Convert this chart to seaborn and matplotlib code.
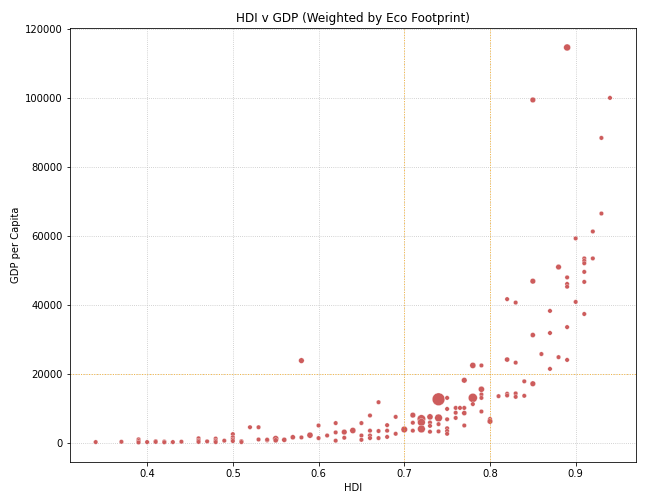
import numpy as np
import pandas as pd
import matplotlib
matplotlib.use("Agg")
import matplotlib.pyplot as plt
import seaborn as sns

# values
hdi = [
    0.34, 0.37, 0.39, 0.39, 0.39, 0.40, 0.41, 0.41, 0.42, 0.42,
    0.43, 0.44, 0.46, 0.46, 0.46, 0.47, 0.48, 0.48, 0.48, 0.49,
    0.50, 0.50, 0.50, 0.50, 0.51, 0.51, 0.52, 0.53, 0.53, 0.54,
    0.54, 0.55, 0.55, 0.56, 0.57, 0.58, 0.58, 0.59, 0.60, 0.60,
    0.61, 0.62, 0.62, 0.62, 0.63, 0.63, 0.64, 0.65, 0.65, 0.65,
    0.66, 0.66, 0.66, 0.66, 0.67, 0.67, 0.67, 0.68, 0.68, 0.68,
    0.69, 0.69, 0.70, 0.71, 0.71, 0.71, 0.72, 0.72, 0.72, 0.73,
    0.73, 0.73, 0.73, 0.74, 0.74, 0.74, 0.74, 0.75, 0.75, 0.75,
    0.75, 0.75, 0.75, 0.76, 0.76, 0.76, 0.765, 0.77, 0.77, 0.77,
    0.77, 0.78, 0.78, 0.78, 0.79, 0.79, 0.79, 0.79, 0.79, 0.80,
    0.80, 0.81, 0.82, 0.82, 0.82, 0.83, 0.83, 0.83, 0.84, 0.84,
    0.85, 0.86, 0.87, 0.88, 0.89, 0.82, 0.83, 0.85, 0.85, 0.85,
    0.87, 0.87, 0.88, 0.89, 0.89, 0.89, 0.89, 0.89, 0.90, 0.90,
    0.91, 0.91, 0.91, 0.91, 0.91, 0.91, 0.92, 0.92, 0.93, 0.93,
    0.94,
]
gdp_per_capita = [
    400, 480, 1200, 700, 300, 400, 650, 450, 550, 350,
    400, 500, 1500, 900, 450, 600, 1400, 800, 400, 800,
    2700, 1800, 1200, 700, 650, 400, 4700, 4700, 1150, 900,
    1100, 1400, 900, 1050, 1800, 1750, 24000, 2400, 5200, 1550,
    2300, 5900, 3200, 800, 3300, 1650, 3750, 5900, 2300, 1050,
    8100, 3700, 2300, 1550, 11950, 3600, 1550, 5300, 3700, 1900,
    7700, 2800, 4050, 8200, 6000, 3700, 7100, 6100, 4200, 7700,
    6070, 5100, 3400, 12800, 7400, 5600, 3500, 13200, 10000, 7000,
    4400, 3600, 2800, 10300, 8900, 7400, 10300, 10300, 8800, 5200,
    18300, 22600, 13200, 11400, 22600, 15700, 14200, 13200, 9250, 7100,
    6400, 13700, 24300, 14400, 13900, 23400, 14500, 13500, 18000, 13800,
    17300, 25900, 21600, 25000, 24200, 41800, 40800, 31400, 47000, 99500,
    38400, 32000, 51100, 48100, 46200, 45400, 33700, 114700, 59400, 41000,
    53600, 52900, 52200, 49700, 46800, 37500, 61400, 53600, 88500, 66600,
    100100,
]
eco_footprint = [
    1.5, 1.5, 1.5, 1.5, 1.5, 1.5, 1.5, 1.5, 1.5, 1.5,
    1.5, 1.5, 1.5, 1.5, 1.5, 1.5, 1.5, 1.5, 1.5, 1.5,
    1.5, 1.5, 1.5, 1.5, 1.5, 1.5, 1.5, 1.5, 1.5, 1.5,
    1.5, 3.0, 2.0, 2.0, 2.0, 1.5, 2.5, 3.0, 1.5, 1.5,
    1.5, 1.5, 1.5, 1.5, 2.5, 1.5, 3.0, 1.5, 1.5, 1.5,
    1.5, 1.5, 1.5, 1.5, 1.5, 1.5, 1.5, 1.5, 1.5, 1.5,
    1.5, 1.5, 3.5, 2.5, 1.5, 1.5, 6.0, 5.0, 5.0, 3.0,
    1.5, 1.5, 1.5, 14.0, 5.0, 1.5, 1.5, 1.5, 1.5, 1.5,
    1.5, 1.5, 1.5, 1.5, 1.5, 1.5, 1.5, 1.5, 2.0, 1.5,
    2.5, 3.0, 7.0, 1.5, 1.5, 3.0, 1.5, 1.5, 1.5, 1.5,
    2.5, 1.5, 2.0, 1.5, 1.5, 1.5, 1.5, 1.5, 1.5, 1.5,
    2.5, 1.5, 1.5, 1.5, 1.5, 1.5, 1.5, 2.0, 2.5, 2.5,
    1.5, 1.5, 2.5, 1.5, 1.5, 1.5, 1.5, 4.0, 1.5, 1.5,
    1.5, 1.5, 1.5, 1.5, 1.5, 1.5, 1.5, 1.5, 1.5, 1.5,
    1.5,
]

data = pd.DataFrame({
    "HDI": hdi,
    "GDP per Capita": gdp_per_capita,
    "Eco Footprint": eco_footprint,
})

fig, ax = plt.subplots(figsize=(9, 7), dpi=72)
fig.subplots_adjust(left=0.108, right=0.981, top=0.945, bottom=0.083)

sns.scatterplot(data=data, x="HDI", y="GDP per Capita", size="Eco Footprint",
                sizes=(20, 160), color="indianred", edgecolor="white",
                linewidth=0.3, legend=False, ax=ax)

ax.grid(True, linestyle=":", color="#c0c0c0", linewidth=0.8)
ax.set_axisbelow(True)
for xv in [0.7, 0.8]:
    ax.axvline(xv, color="orange", linestyle=":", linewidth=1, alpha=0.7)
ax.axhline(20000, color="orange", linestyle=":", linewidth=1, alpha=0.7)

ax.set_title("HDI v GDP (Weighted by Eco Footprint)")
ax.set_xlabel("HDI")
ax.set_ylabel("GDP per Capita")

plt.savefig("out.png", dpi=72)
plt.close()
